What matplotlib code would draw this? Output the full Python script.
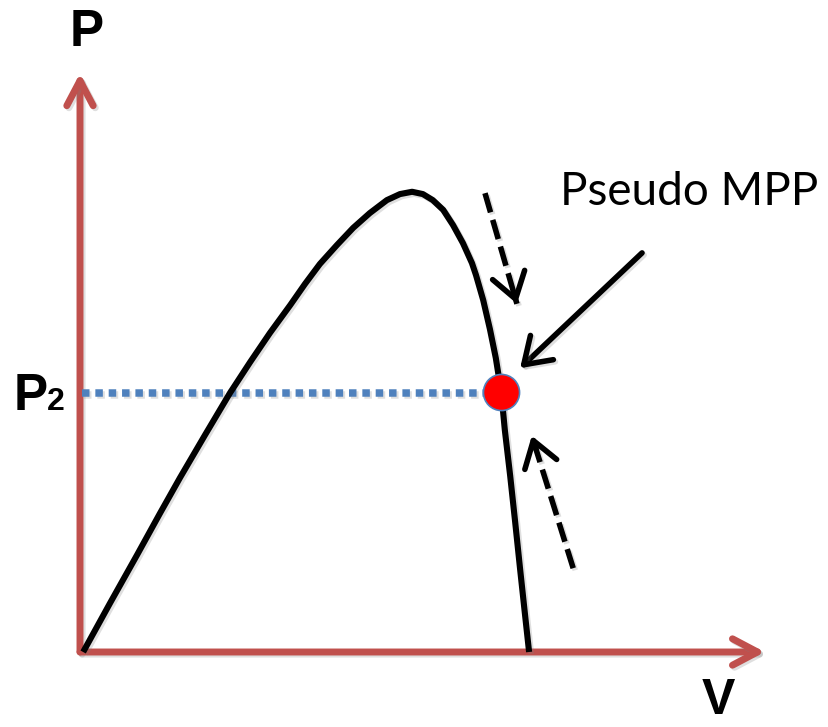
import matplotlib
matplotlib.use("Agg")
import matplotlib.pyplot as plt
from matplotlib.patches import FancyArrowPatch, ArrowStyle
import matplotlib.patheffects as pe

# ---------------- data (normalised: Voc = 1, Pmax = 1) ----------------
voltage = [0.007, 0.067, 0.127, 0.178, 0.222, 0.278, 0.333, 0.378, 0.422,
           0.467, 0.500, 0.533, 0.571, 0.607, 0.644, 0.682, 0.711, 0.738,
           0.762, 0.784, 0.807, 0.829, 0.851, 0.871, 0.880, 0.896, 0.911,
           0.924, 0.936, 0.944, 0.956, 0.967, 0.978, 0.989, 0.998]
power = [0.0, 0.106, 0.210, 0.300, 0.376, 0.469, 0.559, 0.626, 0.689,
         0.749, 0.795, 0.838, 0.879, 0.916, 0.948, 0.976, 0.989, 0.994,
         0.989, 0.976, 0.955, 0.922, 0.883, 0.840, 0.814, 0.760, 0.697,
         0.635, 0.562, 0.480, 0.380, 0.281, 0.179, 0.080, 0.0]

p2_level = 0.56
pseudo_mpp_v = 0.936
pseudo_mpp_p = 0.562

v_axis_end = 1.522
p_axis_end = 1.25

perturb_down = [(0.900, 0.991), (0.971, 0.752)]
perturb_up = [(1.096, 0.181), (1.004, 0.467)]
label_arrow = [(1.249, 0.862), (0.978, 0.613)]

label_p = "P"
label_v = "V"
label_p2 = ("P", "2")
label_mpp = "Pseudo MPP"

# ---------------- styling ----------------
AXIS_RED = "#C0504D"
DOT_BLUE = "#4F81BD"

fig = plt.figure(figsize=(8.29, 7.27), dpi=100)
ax = fig.add_axes([0, 0, 1, 1])
ax.set_xlim(-80 / 450, 749 / 450)
ax.set_ylim(-75 / 463, 652 / 463)
ax.axis("off")

shadow = [pe.SimpleLineShadow(offset=(1.5, -1.5), shadow_color="gray", alpha=0.25),
          pe.Normal()]


def open_arrow(tail, tip, color, lw, hl, hw, z, effects=None):
    a = FancyArrowPatch(tail, tip,
                        arrowstyle=ArrowStyle("->", head_length=hl, head_width=hw),
                        mutation_scale=1, lw=lw, color=color,
                        capstyle="round", joinstyle="round",
                        shrinkA=0, shrinkB=0, zorder=z)
    if effects:
        a.set_path_effects(effects)
    ax.add_patch(a)


# axes
open_arrow((0, 0), (0, p_axis_end), AXIS_RED, 5, 18, 9.5, 2, shadow)
open_arrow((0, 0), (v_axis_end, 0), AXIS_RED, 5, 18, 9.5, 2, shadow)

# P-V curve
ax.plot(voltage, power, color="black", lw=4.4, solid_joinstyle="round",
        solid_capstyle="butt", zorder=4, path_effects=shadow)

# P2 dotted level
ax.plot([0.005, pseudo_mpp_v - 0.03], [p2_level, p2_level], color=DOT_BLUE,
        lw=5.4, linestyle=(0, (1.0, 0.78)), dash_capstyle="butt", zorder=3,
        path_effects=shadow)

# pseudo MPP dot
ax.plot([pseudo_mpp_v], [pseudo_mpp_p], marker="o", markersize=26,
        markerfacecolor="#FF0000", markeredgecolor=DOT_BLUE,
        markeredgewidth=1.2, zorder=6)


def dashed_arrow(tail, tip):
    ax.plot([tail[0], tip[0]], [tail[1], tip[1]], color="black", lw=4,
            linestyle=(0, (3.6, 1.4)), dash_capstyle="butt", zorder=5,
            path_effects=shadow)
    f = 0.1
    mid = (tip[0] - f * (tip[0] - tail[0]), tip[1] - f * (tip[1] - tail[1]))
    open_arrow(mid, tip, "black", 4, 18, 12, 5)


dashed_arrow(*perturb_down)
dashed_arrow(*perturb_up)
open_arrow(label_arrow[0], label_arrow[1], "black", 4, 18, 12, 5, shadow)

# labels
bold = dict(family="Liberation Sans", weight="bold", color="black")
ax.text(0.0155, 1.338, label_p, fontsize=37, ha="center", va="center", **bold)
ax.text(1.418, -0.106, label_v, fontsize=36, ha="center", va="center", **bold)
ax.text(-0.148, p2_level - 0.037, label_p2[0], fontsize=37, ha="left",
        va="baseline", **bold)
ax.text(-0.074, p2_level - 0.037, label_p2[1], fontsize=23, ha="left",
        va="baseline", **bold)
ax.text(1.067, 0.965, label_mpp, fontsize=33, ha="left", va="baseline",
        family="Lato", color="black")

fig.savefig("out.png", dpi=100)
